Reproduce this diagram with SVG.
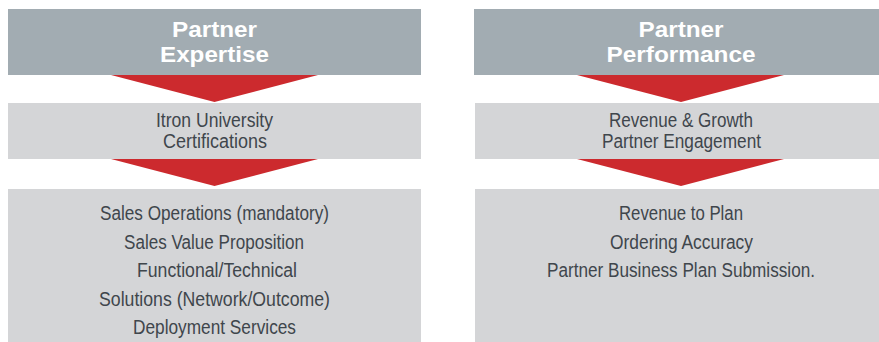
<svg xmlns="http://www.w3.org/2000/svg" width="879" height="342" viewBox="0 0 879 342">
<style>
.hdr{fill:#a2acb2}
.box{fill:#d4d5d7}
.arr{fill:#cc2a2e}
.ht{font-family:"Liberation Sans",Arial,sans-serif;font-weight:bold;font-size:22px;fill:#ffffff;text-anchor:middle}
.bt{font-family:"Liberation Sans",Arial,sans-serif;font-size:19.5px;fill:#3f464c;text-anchor:middle}
</style>
<rect width="879" height="342" fill="#ffffff"/>
<g id="expertise-header"><rect class="hdr" x="8" y="9" width="413" height="66"/><text class="ht" x="214.5" y="36.5" textLength="85" lengthAdjust="spacingAndGlyphs">Partner</text><text class="ht" x="214.5" y="61.5" textLength="109" lengthAdjust="spacingAndGlyphs">Expertise</text></g>
<g id="expertise-certs"><rect class="box" x="8" y="103" width="413" height="56"/><text class="bt" x="214.5" y="127" textLength="117" lengthAdjust="spacingAndGlyphs">Itron University</text><text class="bt" x="215" y="148" textLength="104" lengthAdjust="spacingAndGlyphs">Certifications</text></g>
<g id="expertise-list"><rect class="box" x="8" y="189" width="413" height="153"/>
<text class="bt" x="214.5" y="220" textLength="229" lengthAdjust="spacingAndGlyphs">Sales Operations (mandatory)</text>
<text class="bt" x="214" y="248.5" textLength="180" lengthAdjust="spacingAndGlyphs">Sales Value Proposition</text>
<text class="bt" x="217" y="277" textLength="160" lengthAdjust="spacingAndGlyphs">Functional/Technical</text>
<text class="bt" x="214.5" y="305.5" textLength="231" lengthAdjust="spacingAndGlyphs">Solutions (Network/Outcome)</text>
<text class="bt" x="214.5" y="334" textLength="163" lengthAdjust="spacingAndGlyphs">Deployment Services</text></g>
<g id="performance-header"><rect class="hdr" x="474" y="9" width="405" height="66"/><text class="ht" x="681" y="36.5" textLength="85" lengthAdjust="spacingAndGlyphs">Partner</text><text class="ht" x="681" y="61.5" textLength="149" lengthAdjust="spacingAndGlyphs">Performance</text></g>
<g id="performance-revenue"><rect class="box" x="475" y="103" width="404" height="56"/><text class="bt" x="681" y="127" textLength="144" lengthAdjust="spacingAndGlyphs">Revenue &amp; Growth</text><text class="bt" x="681.5" y="148" textLength="159" lengthAdjust="spacingAndGlyphs">Partner Engagement</text></g>
<g id="performance-list"><rect class="box" x="475" y="189" width="404" height="153"/>
<text class="bt" x="681" y="220" textLength="124" lengthAdjust="spacingAndGlyphs">Revenue to Plan</text>
<text class="bt" x="681.5" y="248.5" textLength="143" lengthAdjust="spacingAndGlyphs">Ordering Accuracy</text>
<text class="bt" x="681" y="277" textLength="268" lengthAdjust="spacingAndGlyphs">Partner Business Plan Submission.</text></g>
<g id="connectors">
<polygon class="arr" points="111,75 318,75 214.5,102"/>
<polygon class="arr" points="111,159 318,159 214.5,186"/>
<polygon class="arr" points="577,75 784,75 681,102"/>
<polygon class="arr" points="577,159 784,159 681,186"/>
</g>
</svg>
